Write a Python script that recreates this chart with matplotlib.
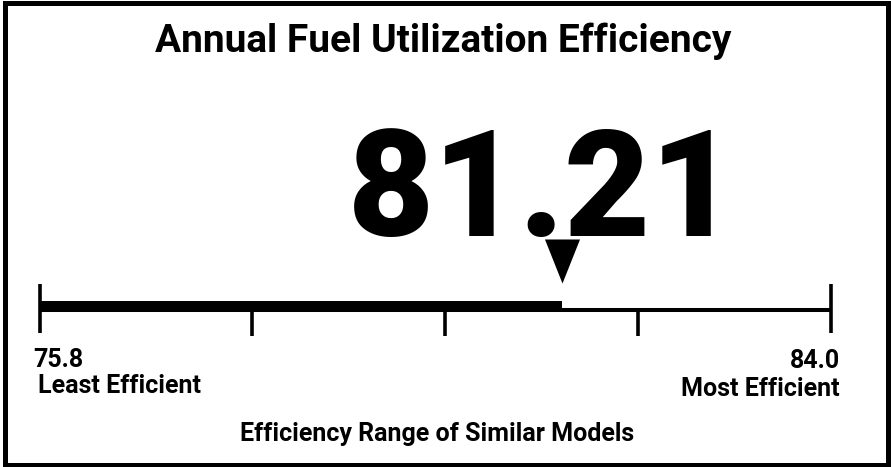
import matplotlib
matplotlib.use("Agg")
import matplotlib.pyplot as plt
from matplotlib.patches import Rectangle

# ---- data ----
title = "Annual Fuel Utilization Efficiency"
value = 81.21
range_min = 75.8
range_max = 84.0
minor_ticks = [78.0, 80.0, 82.0]
min_label = "Least Efficient"
max_label = "Most Efficient"
range_caption = "Efficiency Range of Similar Models"

W, H = 891, 467
fig = plt.figure(figsize=(W / 100, H / 100), dpi=100)
fig.patch.set_facecolor("white")

def fx(px):
    return px / W

def fy(py):
    return 1 - py / H

# border
fig.patches.append(Rectangle((fx(5), fy(464.5)), fx(888) - fx(5), fy(3) - fy(464.5),
                             transform=fig.transFigure, fill=False,
                             edgecolor="black", linewidth=3.6))

# gauge axes: x in data units, y in pixel rows
x0, x1 = 40, 831
ax = fig.add_axes([fx(x0), 0, (x1 - x0) / W, 1])
ax.set_xlim(range_min, range_max)
ax.set_ylim(H, 0)
ax.axis("off")

black = "black"
# thin range line
ax.hlines(310, range_min, range_max, color=black, linewidth=2.9, clip_on=False)
# thick bar up to value
ax.barh(306.5, value - range_min, left=range_min, height=11, color=black,
        linewidth=0, clip_on=False)
# end ticks
ax.vlines([range_min, range_max], 284, 333, color=black, linewidth=2.6, clip_on=False)
# intermediate ticks
ax.vlines(minor_ticks, 310, 336, color=black, linewidth=2.6, clip_on=False)
# pointer triangle
tri = [(-17.5, 22), (17.5, 22), (0, -22)]
ax.plot([value], [261], marker=tri, markersize=31.7, color=black,
        markeredgewidth=0, linestyle="none", clip_on=False)

bold = dict(family=["Roboto", "DejaVu Sans"], weight="bold", color=black)

fig.text(fx(443), fy(52), title, ha="center", va="baseline", fontsize=28, **bold)
fig.text(fx(543), fy(236), f"{value:.2f}", ha="center", va="baseline",
         fontsize=107, family=["Roboto", "DejaVu Sans"], weight="black", color=black)
fig.text(fx(33), fy(367), f"{range_min:.1f}", ha="left", va="baseline", fontsize=18, **bold)
fig.text(fx(38), fy(393), min_label, ha="left", va="baseline", fontsize=18, **bold)
fig.text(fx(840), fy(368), f"{range_max:.1f}", ha="right", va="baseline", fontsize=18, **bold)
fig.text(fx(840), fy(396), max_label, ha="right", va="baseline", fontsize=18, **bold)
fig.text(fx(437), fy(441), range_caption, ha="center", va="baseline", fontsize=18, **bold)

fig.savefig("out.png", dpi=100, facecolor="white")
